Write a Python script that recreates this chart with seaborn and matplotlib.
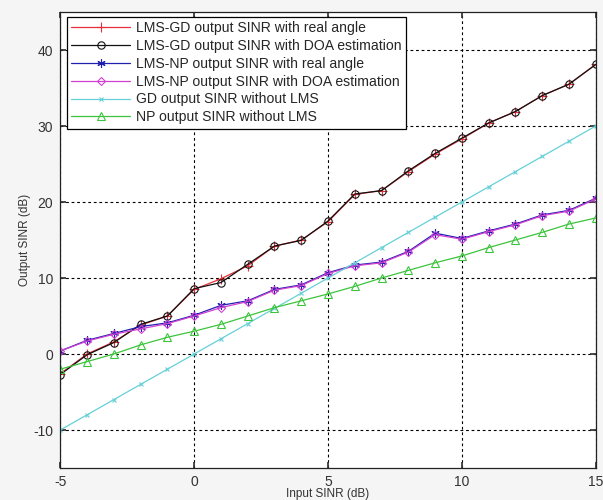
import numpy as np
import pandas as pd
import matplotlib
matplotlib.use("Agg")
import matplotlib.pyplot as plt
import seaborn as sns

# Data
input_sinr = list(range(-5, 16))

lms_gd_real = [-2.6, 0.0, 1.6, 3.8, 5.0, 8.5, 9.9, 11.6, 14.2, 15.0, 17.4,
               21.0, 21.5, 24.0, 26.3, 28.3, 30.4, 31.9, 34.0, 35.5, 38.1]
lms_gd_doa = [-2.7, -0.1, 1.5, 3.9, 5.0, 8.6, 9.4, 11.8, 14.2, 14.95, 17.5,
              21.05, 21.5, 24.1, 26.4, 28.4, 30.4, 31.9, 34.0, 35.5, 38.1]
lms_np_real = [0.4, 1.8, 2.7, 3.6, 4.1, 5.1, 6.4, 7.0, 8.5, 9.1, 10.7,
               11.7, 12.1, 13.5, 15.9, 15.2, 16.2, 17.1, 18.3, 18.9, 20.5]
lms_np_doa = [0.4, 1.7, 2.6, 3.3, 4.0, 5.0, 6.1, 6.9, 8.4, 9.0, 10.6,
              11.6, 12.0, 13.4, 15.7, 15.1, 16.1, 17.0, 18.2, 18.8, 20.4]
gd_no_lms = [-10, -8, -6, -4, -2, 0, 2, 4, 6, 8, 10,
             12, 14, 16, 18, 20, 22, 24, 26, 28, 30]
np_no_lms = [-2.0, -1.0, 0.0, 1.2, 2.2, 3.0, 3.9, 5.0, 6.1, 7.0, 7.9,
             8.9, 10.0, 11.0, 12.0, 12.9, 14.0, 15.0, 16.0, 17.1, 17.9]

labels = ["LMS-GD output SINR with real angle",
          "LMS-GD output SINR with DOA estimation",
          "LMS-NP output SINR with real angle",
          "LMS-NP output SINR with DOA estimation",
          "GD output SINR without LMS",
          "NP output SINR without LMS"]

series = [lms_gd_real, lms_gd_doa, lms_np_real, lms_np_doa, gd_no_lms, np_no_lms]
colors = ["#e8303a", "#111111", "#2020b0", "#d040d0", "#66d0d8", "#3cc43c"]
markers = ["+", "o", (6, 2, 0), "D", "x", "^"]
msizes = [7, 5.3, 6, 4.5, 3.5, 6]

sns.set_theme(style="white")
plt.rcParams["font.family"] = ["Liberation Sans", "DejaVu Sans"]
plt.rcParams["axes.unicode_minus"] = False

fig = plt.figure(figsize=(6.03, 5.0), dpi=100, facecolor="#f5f5f5")
ax = fig.add_axes([0.1, 0.064, 0.888, 0.912])
ax.set_facecolor("white")

for ys, lab, c, m, ms in zip(series, labels, colors, markers, msizes):
    df = pd.DataFrame({"x": input_sinr, "y": ys})
    sns.lineplot(data=df, x="x", y="y", ax=ax, color=c, marker=m,
                 markersize=ms, markerfacecolor="none", markeredgecolor=c,
                 markeredgewidth=0.8, linewidth=0.9, label=lab)

ax.set_xlim(-5, 15)
ax.set_ylim(-15, 45)
ax.set_xticks([-5, 0, 5, 10, 15])
ax.set_yticks([-10, 0, 10, 20, 30, 40])
ax.grid(True, color="black", linestyle=(0, (2.5, 2.5)), linewidth=0.8)
ax.tick_params(direction="in", length=4, labelsize=10, colors="#333333",
               left=True, bottom=True, top=True, right=True, pad=5)
for sp in ax.spines.values():
    sp.set_color("#222222")
    sp.set_linewidth(0.9)

ax.set_xlabel("Input SINR (dB)", fontsize=8.5, color="#333333", labelpad=-1)
ax.set_ylabel("Output SINR (dB)", fontsize=8.5, color="#333333", labelpad=2)

leg = ax.legend(loc="upper left", bbox_to_anchor=(0.013, 0.99), fontsize=10.1,
                handlelength=4.2, borderaxespad=0, labelspacing=0.28,
                borderpad=0.3, handletextpad=0.4, fancybox=False,
                framealpha=1, edgecolor="black")
leg.get_frame().set_linewidth(0.9)

fig.savefig("out.png", dpi=100, facecolor=fig.get_facecolor())
